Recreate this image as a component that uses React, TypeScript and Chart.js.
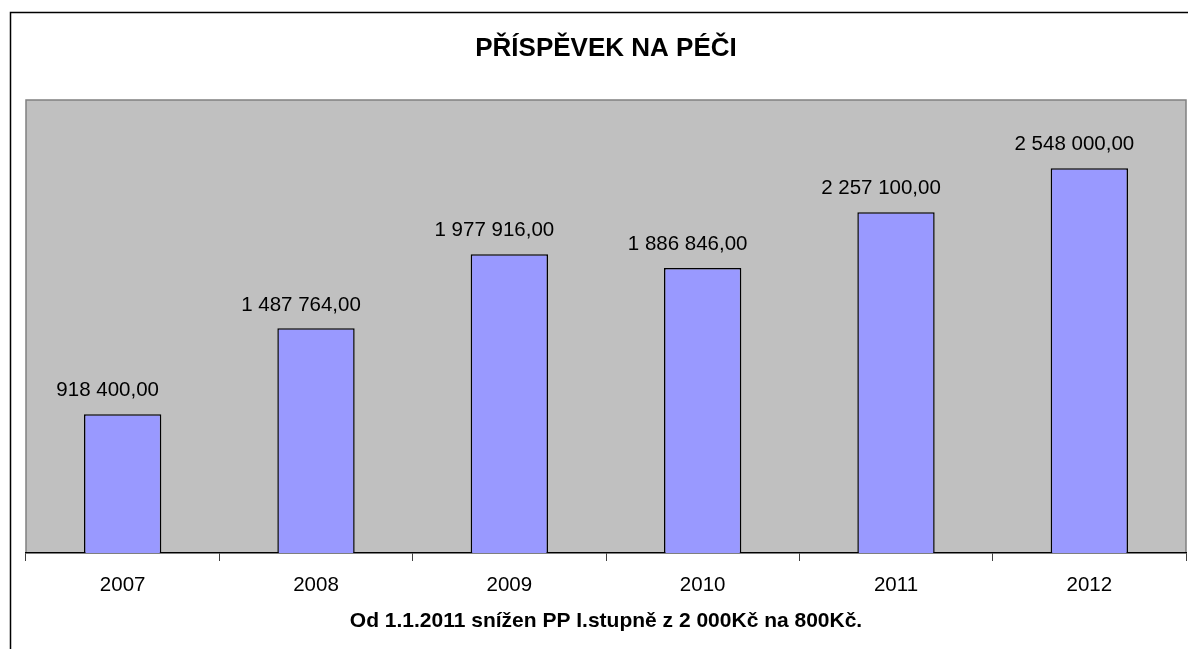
import React, { useEffect, useRef } from "react";
import { Chart, registerables } from "chart.js";

Chart.register(...registerables);

const categories = ["2007", "2008", "2009", "2010", "2011", "2012"];
const values = [918400, 1487764, 1977916, 1886846, 2257100, 2548000];
const titleText = "PŘÍSPĚVEK NA PÉČI";
const subtitleText = "Od 1.1.2011 snížen PP I.stupně z 2 000Kč na 800Kč.";
const yMin = 0;
const yMax = 3000000;

const FONT = "'Liberation Sans', Arial, sans-serif";

function formatCz(v: number): string {
  const fixed = v.toFixed(2);
  const [intPart, dec] = fixed.split(".");
  const grouped = intPart.replace(/\B(?=(\d{3})+(?!\d))/g, " ");
  return grouped + "," + dec;
}

const framePlugin = {
  id: "frameAndBg",
  beforeDraw(chart: any) {
    const { ctx, chartArea } = chart;
    ctx.save();
    ctx.fillStyle = "#ffffff";
    ctx.fillRect(0, 0, chart.width, chart.height);
    // outer frame (clipped by viewport on right/bottom)
    ctx.strokeStyle = "#000000";
    ctx.lineWidth = 1.5;
    ctx.beginPath();
    ctx.moveTo(10.5, chart.height + 5);
    ctx.lineTo(10.5, 12.5);
    ctx.lineTo(chart.width + 5, 12.5);
    ctx.stroke();
    // plot area
    const { left, top, right, bottom } = chartArea;
    ctx.fillStyle = "#C0C0C0";
    ctx.fillRect(left, top, right - left, bottom - top);
    ctx.strokeStyle = "#808080";
    ctx.lineWidth = 1.5;
    ctx.beginPath();
    ctx.moveTo(left, bottom);
    ctx.lineTo(left, top);
    ctx.lineTo(right, top);
    ctx.lineTo(right, bottom);
    ctx.stroke();
    ctx.restore();
  },
};

const labelPlugin = {
  id: "valueLabels",
  afterDatasetsDraw(chart: any) {
    const { ctx } = chart;
    const meta = chart.getDatasetMeta(0);
    ctx.save();
    ctx.fillStyle = "#000000";
    ctx.font = `20.5px ${FONT}`;
    ctx.textAlign = "center";
    ctx.textBaseline = "middle";
    meta.data.forEach((bar: any, i: number) => {
      ctx.fillText(formatCz(values[i]), bar.x - 15, bar.y - 23.5);
    });
    ctx.restore();
  },
};

export default function App() {
  const ref = useRef<HTMLCanvasElement | null>(null);
  useEffect(() => {
    if (!ref.current) return;
    const chart = new Chart(ref.current, {
      type: "bar",
      data: {
        labels: categories,
        datasets: [
          {
            data: values,
            backgroundColor: "#9999FF",
            borderColor: "#000000",
            borderWidth: 1.5,
            barPercentage: 0.4,
            categoryPercentage: 1,
          },
        ],
      },
      options: {
        responsive: false,
        animation: false,
        layout: { padding: { left: 26, right: 2, top: 0, bottom: 0 } },
        plugins: {
          legend: { display: false },
          tooltip: { enabled: false },
          title: {
            display: true,
            text: titleText,
            color: "#000000",
            font: { family: FONT, size: 26, weight: "bold", lineHeight: 1.2 },
            padding: { top: 33.4, bottom: 35.4 },
          },
          subtitle: {
            display: true,
            position: "bottom",
            text: subtitleText,
            color: "#000000",
            font: { family: FONT, size: 21, weight: "bold", lineHeight: 1.2 },
            padding: { top: 11.1, bottom: 15.4 },
          },
        },
        scales: {
          x: {
            offset: true,
            afterFit: (scale: any) => {
              scale.height = 44.3;
            },
            grid: {
              display: true,
              offset: true,
              drawOnChartArea: false,
              drawTicks: true,
              tickLength: 8,
              color: "#404040",
              lineWidth: 1,
            },
            border: { display: true, color: "#000000", width: 1.5 },
            ticks: {
              color: "#000000",
              font: { family: FONT, size: 20.5 },
              padding: 11.7,
              maxRotation: 0,
            },
          },
          y: {
            display: false,
            min: yMin,
            max: yMax,
          },
        },
      },
      plugins: [framePlugin, labelPlugin],
    });
    return () => chart.destroy();
  }, []);
  return (
    <canvas
      ref={ref}
      width={1188}
      height={649}
      style={{ position: "absolute", left: 0, top: 0, width: 1188, height: 649 }}
    />
  );
}
